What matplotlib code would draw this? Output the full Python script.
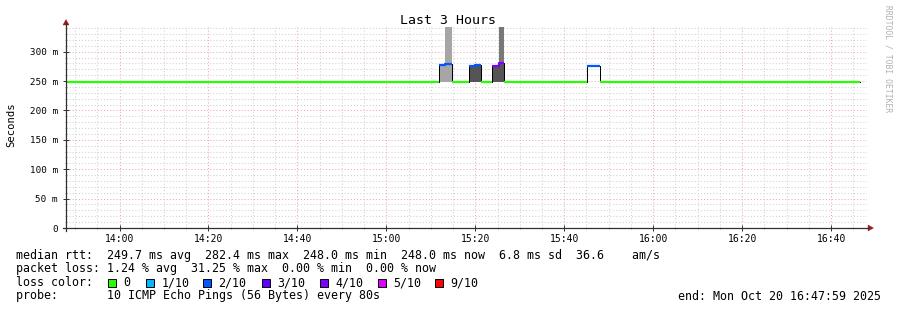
import matplotlib
matplotlib.use("Agg")
import matplotlib.pyplot as plt
import numpy as np
from matplotlib.patches import Rectangle, Polygon
from matplotlib.lines import Line2D

# ---------------- data ----------------
seg_start = ["13:48:00", "15:11:54", "15:13:06", "15:14:39", "15:18:39", "15:19:52",
             "15:21:13", "15:23:52", "15:25:16", "15:26:34", "15:45:10", "15:47:58"]
series_end = "16:46:30"
median_ms = [248.0, 276.5, 279.5, 248.0, 275.8, 277.8, 248.0, 275.5, 281.5, 248.0, 275.5, 248.0]
loss_frac = [0.0, 0.2, 0.2, 0.0, 0.2, 0.2, 0.0, 0.3125, 0.3125, 0.0, 0.2, 0.0]

# smoke (ping spread) per segment: outer band and inner (denser) band
smoke_outer_lo = [None, 248.0, 248.0, None, 248.0, 248.0, None, 248.0, 248.0, None, None, None]
smoke_outer_hi = [None, 276.5, 460.0, None, 275.8, 277.8, None, 275.5, 460.0, None, None, None]
smoke_outer_col = [None, "#a6a6a6", "#a6a6a6", None, "#555555", "#555555", None, "#555555", "#787878", None, None, None]
smoke_inner_lo = [None, None, None, None, None, None, None, None, 248.0, None, None, None]
smoke_inner_hi = [None, None, None, None, None, None, None, None, 281.5, None, None, None]
smoke_inner_col = [None, None, None, None, None, None, None, None, "#555555", None, None, None]

loss_keys = [0, 1, 2, 3, 4, 5, 9]
loss_labels = ["0", "1/10", "2/10", "3/10", "4/10", "5/10", "9/10"]
loss_colors = ["#26ff00", "#00b8ff", "#0059ff", "#5e00ff", "#7e00ff", "#dd00ff", "#ff0000"]
pings = 10

x_tick_labels = ["14:00", "14:20", "14:40", "15:00", "15:20", "15:40", "16:00", "16:20", "16:40"]
y_tick_values = [0, 50, 100, 150, 200, 250, 300]
y_tick_labels = ["0", "50 m", "100 m", "150 m", "200 m", "250 m", "300 m"]
view_start = "13:47:58"
view_end = "16:47:58"
y_top = 342

title = "Last 3 Hours"
ylabel = "Seconds"
row1 = "median rtt:  249.7 ms avg  282.4 ms max  248.0 ms min  248.0 ms now  6.8 ms sd  36.6    am/s"
row2 = "packet loss: 1.24 % avg  31.25 % max  0.00 % min  0.00 % now"
row3_head = "loss color:"
row4 = "probe:       10 ICMP Echo Pings (56 Bytes) every 80s"
end_text = "end: Mon Oct 20 16:47:59 2025"
watermark = "RRDTOOL / TOBI OETIKER"

# ---------------- helpers ----------------
def tmin(s):
    h, m, sec = [int(v) for v in s.split(":")]
    return h * 60 + m + sec / 60.0

W, H = 897, 310
def fx(x):
    return x / W
def fy(y):
    return 1 - y / H

MONO = "DejaVu Sans Mono"

fig = plt.figure(figsize=(W / 100, H / 100), dpi=100)
fig.patch.set_facecolor("white")

L, R, T, B = 66, 866.5, 27, 228
ax = fig.add_axes([fx(L), fy(B), (R - L) / W, (B - T) / H])
ax.set_facecolor("white")

t_edges = np.array([tmin(s) for s in seg_start] + [tmin(series_end)])
med = np.array(median_ms)

# smoke
for i in range(len(seg_start)):
    w = t_edges[i + 1] - t_edges[i]
    if smoke_outer_lo[i] is not None:
        ax.bar(t_edges[i], smoke_outer_hi[i] - smoke_outer_lo[i], width=w, bottom=smoke_outer_lo[i],
               align="edge", color=smoke_outer_col[i], linewidth=0, zorder=1)
    if smoke_inner_lo[i] is not None:
        ax.bar(t_edges[i], smoke_inner_hi[i] - smoke_inner_lo[i], width=w, bottom=smoke_inner_lo[i],
               align="edge", color=smoke_inner_col[i], linewidth=0, zorder=1.5)

# black median line underneath
ax.plot(t_edges, np.append(med, med[-1]), drawstyle="steps-post", color="#000000", lw=0.72, zorder=3)

# colored median per loss bucket (smokeping rule: prev < loss <= key)
loss_pings = np.array(loss_frac) * pings
prev = -1
for key, col in zip(loss_keys, loss_colors):
    if key == 0:
        mask = loss_pings <= 0
    else:
        mask = (loss_pings > prev) & (loss_pings <= key)
    prev = key
    if not mask.any():
        continue
    y = np.where(mask, med, np.nan)
    ax.plot(t_edges, np.append(y, y[-1]), drawstyle="steps-post", color=col, lw=1.6,
            zorder=4, solid_capstyle="butt")

# axes & grid
x0, x1 = tmin(view_start), tmin(view_end)
ax.set_xlim(x0, x1)
ax.set_ylim(0, y_top)
major_x = [tmin(s + ":00") for s in x_tick_labels]
ax.set_xticks(major_x)
ax.set_xticklabels(x_tick_labels, fontfamily=MONO, fontsize=7)
minor_x = np.arange(np.ceil(x0 / 5) * 5, x1, 5)
ax.set_xticks(minor_x, minor=True)
ax.set_yticks(y_tick_values)
ax.set_yticklabels(y_tick_labels, fontfamily=MONO, fontsize=6.7)
ax.set_yticks(np.arange(10, y_top, 10), minor=True)

ax.set_axisbelow(True)
ax.grid(which="major", color="#eeaaaa", linestyle=(0, (1, 2)), linewidth=0.75, zorder=0)
ax.grid(which="minor", color="#d2d2d2", linestyle=(0, (1, 2)), linewidth=0.75, zorder=0)
ax.tick_params(which="major", direction="inout", length=4, width=0.7, color="#303030", pad=2.5)
ax.tick_params(which="minor", direction="inout", length=2, width=0.6, color="#a0a0a0")
ax.tick_params(axis="y", which="major", pad=4)
for sp in ax.spines.values():
    sp.set_visible(False)

# axis lines and arrows (pixel coords)
axis_col = "#303030"
arrow_col = "#9b1c1c"
fig.add_artist(Line2D([fx(L), fx(L)], [fy(B + 3), fy(23)], color=axis_col, lw=0.9, transform=fig.transFigure))
fig.add_artist(Line2D([fx(L - 3), fx(868)], [fy(B), fy(B)], color=axis_col, lw=0.9, transform=fig.transFigure))
fig.add_artist(Polygon([[fx(L - 3), fy(25)], [fx(L + 3), fy(25)], [fx(L), fy(19.5)]], closed=True,
                       facecolor=arrow_col, edgecolor=arrow_col, lw=0.3, transform=fig.transFigure))
fig.add_artist(Polygon([[fx(868), fy(B - 3)], [fx(868), fy(B + 3)], [fx(873.5), fy(B)]], closed=True,
                       facecolor=arrow_col, edgecolor=arrow_col, lw=0.3, transform=fig.transFigure))

# texts
fig.text(fx(447.5), fy(20), title, fontfamily=MONO, fontsize=9.5, ha="center", va="center")
fig.text(fx(11), fy(125), ylabel, fontfamily=MONO, fontsize=7.6, ha="center", va="center", rotation=90)
fig.text(fx(888), fy(5), watermark, fontfamily=MONO, fontsize=5.8, color="#b0b0b0",
         ha="center", va="top", rotation=270)

LEG = 8.4
fig.text(fx(16), fy(255), row1, fontfamily=MONO, fontsize=LEG, ha="left", va="center")
fig.text(fx(16), fy(268.5), row2, fontfamily=MONO, fontsize=LEG, ha="left", va="center")
fig.text(fx(16), fy(282.5), row3_head, fontfamily=MONO, fontsize=LEG, ha="left", va="center")
fig.text(fx(16), fy(296), row4, fontfamily=MONO, fontsize=LEG, ha="left", va="center")
fig.text(fx(880.5), fy(296), end_text, fontfamily=MONO, fontsize=LEG, ha="right", va="center")

sq_x = [108, 146, 203, 262, 320, 378, 435]
for xs, lab, col in zip(sq_x, loss_labels, loss_colors):
    fig.add_artist(Rectangle((fx(xs), fy(286.5)), 8 / W, 8 / H, facecolor=col, edgecolor="black",
                             lw=0.7, transform=fig.transFigure))
    fig.text(fx(xs + 15.5), fy(282.5), lab, fontfamily=MONO, fontsize=LEG, ha="left", va="center")

fig.savefig("out.png", dpi=100, facecolor="white")
